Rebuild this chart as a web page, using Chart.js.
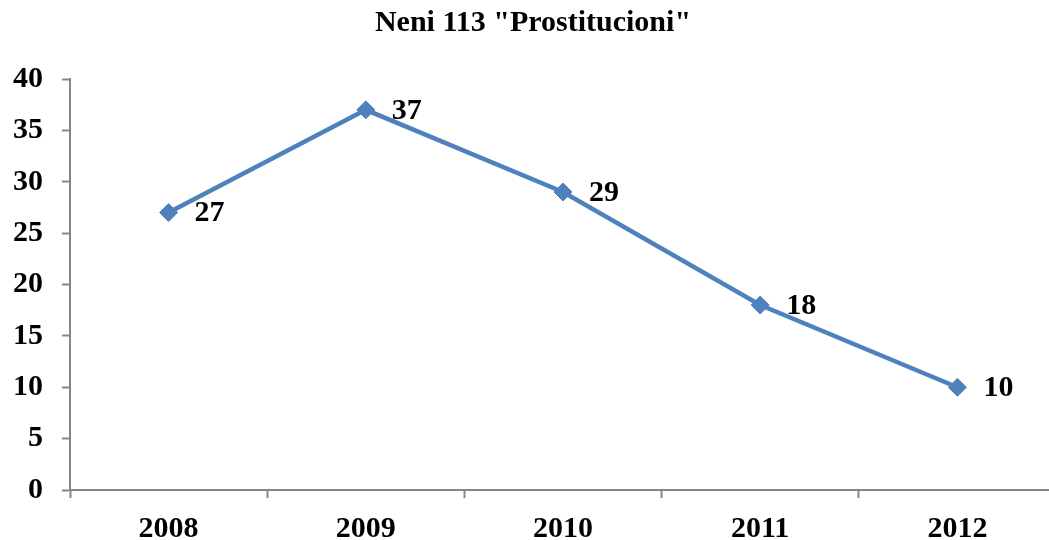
<!DOCTYPE html>
<html>
<head>
<meta charset="utf-8">
<script src="https://cdn.jsdelivr.net/npm/chart.js@4/dist/chart.umd.min.js"></script>
<style>
  html, body { margin: 0; padding: 0; background: #fff; overflow: hidden; }
  canvas { display: block; }
</style>
</head>
<body>
<canvas id="chart" width="1066" height="540"></canvas>
<script>
// Data
const years = ['2008', '2009', '2010', '2011', '2012'];
const cases = [27, 37, 29, 18, 10];
const titleText = 'Neni 113 "Prostitucioni"';

const serif = "'Liberation Serif', 'Times New Roman', serif";
const axisGray = '#868686';
const lineBlue = '#4F81BD';

// Small plugin to write the value next to each point
const valueLabels = {
    id: 'valueLabels',
    afterDatasetsDraw(chart) {
        const ctx = chart.ctx;
        const meta = chart.getDatasetMeta(0);
        ctx.save();
        ctx.font = 'bold 30px ' + serif;
        ctx.fillStyle = '#000';
        ctx.textAlign = 'left';
        ctx.textBaseline = 'middle';
        meta.data.forEach((pt, i) => {
            ctx.fillText(String(chart.data.datasets[0].data[i]), pt.x + 26, pt.y + 1);
        });
        ctx.restore();
    }
};

new Chart(document.getElementById('chart'), {
    type: 'line',
    data: {
        labels: years,
        datasets: [{
            data: cases,
            borderColor: lineBlue,
            backgroundColor: lineBlue,
            borderWidth: 4.5,
            pointStyle: 'rectRot',
            pointRadius: 9,
            pointBorderWidth: 1,
            pointBackgroundColor: lineBlue,
            pointBorderColor: lineBlue,
            tension: 0
        }]
    },
    options: {
        responsive: false,
        animation: false,
        devicePixelRatio: 1,
        layout: { padding: 0 },
        plugins: {
            legend: { display: false },
            tooltip: { enabled: false },
            title: {
                display: true,
                text: titleText,
                color: '#000',
                font: { family: serif, size: 30, weight: 'bold' },
                padding: { top: 5, bottom: 38 }
            }
        },
        scales: {
            x: {
                offset: true,
                grid: {
                    offset: true,
                    drawOnChartArea: false,
                    drawTicks: true,
                    tickLength: 8,
                    tickWidth: 2,
                    color: axisGray
                },
                border: { color: axisGray, width: 2 },
                ticks: {
                    color: '#000',
                    padding: 13,
                    font: { family: serif, size: 30, weight: 'bold' }
                },
                afterFit(scale) { scale.height = 50; }
            },
            y: {
                min: 0,
                max: 40,
                grid: {
                    drawOnChartArea: false,
                    drawTicks: true,
                    tickLength: 8,
                    tickWidth: 2,
                    color: axisGray
                },
                border: { color: axisGray, width: 2 },
                ticks: {
                    stepSize: 5,
                    color: '#000',
                    padding: 19,
                    font: { family: serif, size: 30, weight: 'bold' }
                },
                afterFit(scale) { scale.width = 70; }
            }
        }
    },
    plugins: [valueLabels]
});
</script>
</body>
</html>
